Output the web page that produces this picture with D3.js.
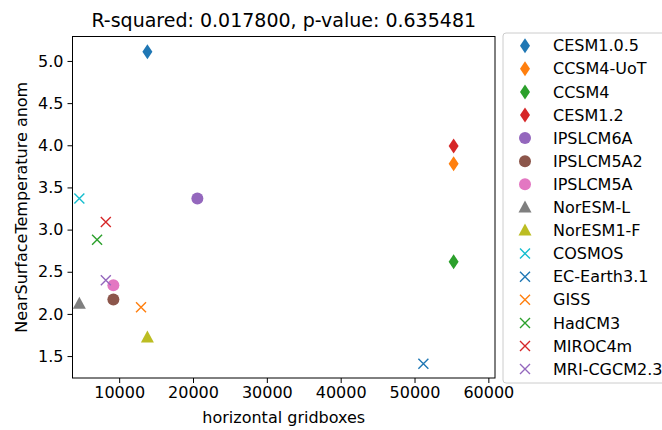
<!DOCTYPE html>
<html>
<head>
<meta charset="utf-8">
<script src="https://d3js.org/d3.v7.min.js"></script>
<style>
    body { margin: 0; background: #fff; }
    svg text { font-family: "DejaVu Sans", sans-serif; fill: #000; }
</style>
</head>
<body>
<svg id="chart" width="662" height="430"></svg>
<script>
    // data
    const models = ["CESM1.0.5", "CCSM4-UoT", "CCSM4", "CESM1.2", "IPSLCM6A", "IPSLCM5A2", "IPSLCM5A",
                    "NorESM-L", "NorESM1-F", "COSMOS", "EC-Earth3.1", "GISS", "HadCM3", "MIROC4m", "MRI-CGCM2.3"];
    const gridboxes = [13824, 55296, 55296, 55296, 20592, 9216, 9216, 4608, 13824, 4608, 51200, 12960, 7008, 8192, 8192];
    const tempAnom = [5.11, 3.78, 2.62, 3.99, 3.37, 2.17, 2.34, 2.12, 1.72, 3.37, 1.41, 2.08, 2.88, 3.09, 2.40];
    const markers = ["diamond", "diamond", "diamond", "diamond", "circle", "circle", "circle",
                     "triangle", "triangle", "x", "x", "x", "x", "x", "x"];
    const colors = ["#1f77b4", "#ff7f0e", "#2ca02c", "#d62728", "#9467bd", "#8c564b", "#e377c2",
                    "#7f7f7f", "#bcbd22", "#17becf", "#1f77b4", "#ff7f0e", "#2ca02c", "#d62728", "#9467bd"];
    const xTicks = [10000, 20000, 30000, 40000, 50000, 60000];
    const yTicks = [1.5, 2.0, 2.5, 3.0, 3.5, 4.0, 4.5, 5.0];
    const title = "R-squared: 0.017800, p-value: 0.635481";

    const svg = d3.select("#chart");
    const margins = { top: 36.5, left: 72.5, right: 167, bottom: 52 };
    const w = 662 - margins.left - margins.right;
    const h = 430 - margins.top - margins.bottom;

    const x = d3.scaleLinear().domain([3680, 60900]).range([0, w]);
    const y = d3.scaleLinear().domain([1.24, 5.29]).range([h, 0]);

    const g = svg.append("g").attr("transform", `translate(${margins.left},${margins.top})`);

    const xAxis = g.append("g").attr("transform", `translate(0,${h})`)
        .call(d3.axisBottom(x).tickValues(xTicks).tickFormat(d3.format("d")).tickSize(5).tickPadding(4));
    const yAxis = g.append("g")
        .call(d3.axisLeft(y).tickValues(yTicks).tickFormat(d3.format(".1f")).tickSize(5).tickPadding(4));
    [xAxis, yAxis].forEach(a => {
        a.selectAll("text").style("font-size", "16px").style("font-family", "DejaVu Sans");
        a.selectAll("line").attr("stroke", "#000");
        a.select(".domain").remove();
    });

    g.append("rect").attr("width", w).attr("height", h)
        .attr("fill", "none").attr("stroke", "#000").attr("stroke-width", 1);

    svg.append("text").attr("x", margins.left + w / 2).attr("y", 26.5)
        .attr("text-anchor", "middle").style("font-size", "19px").text(title);
    svg.append("text").attr("x", margins.left + w / 2).attr("y", 423)
        .attr("text-anchor", "middle").style("font-size", "16px").text("horizontal gridboxes");
    svg.append("text").attr("transform", `translate(27,${margins.top + h / 2}) rotate(-90)`)
        .attr("text-anchor", "middle").style("font-size", "16px").text("NearSurfaceTemperature anom");

    function drawMarker(sel, kind, color) {
        if (kind === "diamond") {
            sel.append("path").attr("d", "M0,-7.5 L5,0 L0,7.5 L-5,0 Z").attr("fill", color);
        } else if (kind === "circle") {
            sel.append("circle").attr("r", 6).attr("fill", color);
        } else if (kind === "triangle") {
            sel.append("path").attr("d", "M0,-7 L6.5,5 L-6.5,5 Z").attr("fill", color);
        } else {
            sel.append("path").attr("d", "M-5,-5 L5,5 M-5,5 L5,-5")
                .attr("stroke", color).attr("stroke-width", 1.4).attr("fill", "none");
        }
    }

    const pts = g.selectAll("g.pt").data(models).join("g").attr("class", "pt")
        .attr("transform", (d, i) => `translate(${x(gridboxes[i])},${y(tempAnom[i])})`);
    pts.each(function (d, i) { drawMarker(d3.select(this), markers[i], colors[i]); });

    // legend
    const leg = svg.append("g").attr("transform", "translate(503,33)");
    leg.append("rect").attr("width", 170).attr("height", 350).attr("rx", 3)
        .attr("fill", "#fff").attr("stroke", "#ccc").attr("stroke-width", 1);
    const items = leg.selectAll("g.item").data(models).join("g").attr("class", "item")
        .attr("transform", (d, i) => `translate(22,${12.7 + i * 23.1})`);
    items.each(function (d, i) { drawMarker(d3.select(this), markers[i], colors[i]); });
    items.append("text").attr("x", 28).attr("dy", "0.35em")
        .style("font-size", "16px").text(d => d);
</script>
</body>
</html>
